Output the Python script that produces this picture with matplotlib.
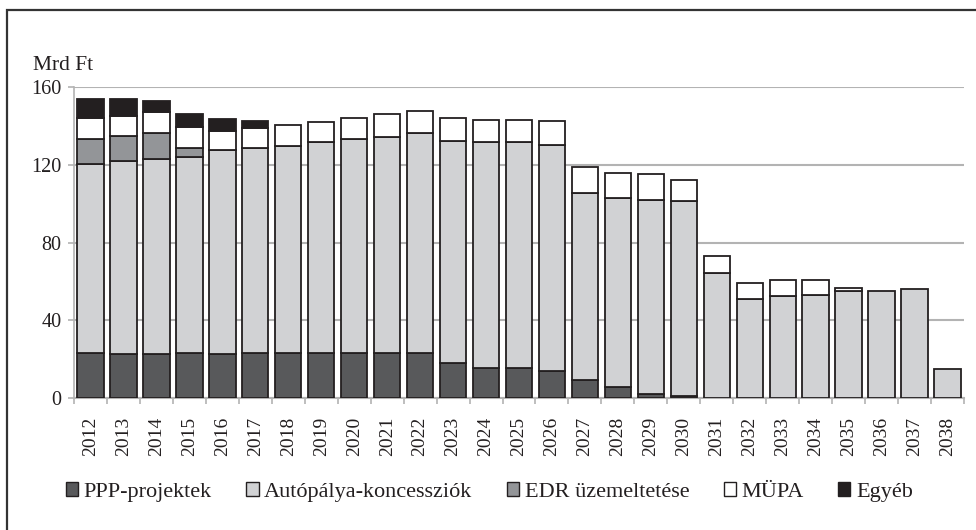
import matplotlib
matplotlib.use("Agg")
import matplotlib.pyplot as plt
import numpy as np
from matplotlib.patches import Rectangle, Patch

years = [str(y) for y in range(2012, 2039)]
ppp = [23.2, 22.7, 22.7, 23.0, 22.5, 23.0, 23.0, 23.0, 23.0, 23.0, 23.0, 17.9, 15.6, 15.5,
       13.9, 9.4, 5.6, 2.2, 0.8, 0, 0, 0, 0, 0, 0, 0, 0]
auto = [97.0, 99.0, 100.4, 100.9, 105.2, 105.6, 106.6, 108.5, 110.1, 111.4, 113.2, 114.5, 116.1,
        116.2, 116.1, 96.1, 97.1, 99.9, 100.4, 64.4, 50.8, 52.3, 53.0, 55.2, 55.2, 55.9, 14.9]
edr = [13.2, 12.9, 13.2, 4.5, 0, 0, 0, 0, 0, 0, 0, 0, 0, 0, 0, 0, 0, 0, 0, 0, 0, 0, 0, 0, 0, 0, 0]
mupa = [10.6, 10.6, 10.7, 11.2, 9.8, 10.3, 11.0, 10.7, 10.8, 11.7, 11.3, 11.5, 11.5, 11.5,
        12.3, 13.1, 13.0, 12.9, 10.8, 8.6, 8.5, 8.6, 7.9, 1.6, 0, 0, 0]
egyeb = [9.8, 8.6, 6.0, 6.3, 6.2, 3.4, 0, 0, 0, 0, 0, 0, 0, 0, 0, 0, 0, 0, 0, 0, 0, 0, 0, 0, 0, 0, 0]

series = [
    ("PPP-projektek", ppp, "#58595b"),
    ("Autópálya-koncessziók", auto, "#d1d2d4"),
    ("EDR üzemeltetése", edr, "#939598"),
    ("MÜPA", mupa, "#ffffff"),
    ("Egyéb", egyeb, "#231f20"),
]

plt.rcParams['font.family'] = ['Liberation Serif', 'DejaVu Serif']

fig = plt.figure(figsize=(9.76, 5.3), dpi=100)
ax = fig.add_axes([74/976, 1-398/530, (964-74)/976, (398-87)/530])

x = np.arange(len(years))
bottom = np.zeros(len(years))
edge = "#231f20"
for name, vals, col in series:
    v = np.array(vals, dtype=float)
    mask = v > 0
    ax.bar(x[mask], v[mask], width=0.8, bottom=bottom[mask], color=col,
           edgecolor=edge, linewidth=1.3, zorder=3)
    bottom += v

ax.set_xlim(-0.47, len(years) - 0.5)
ax.set_ylim(0, 160)
ax.set_yticks([0, 40, 80, 120, 160])
ax.yaxis.grid(True, color="#b3b3b3", linewidth=1.5, zorder=0)
ax.set_axisbelow(True)

ax.set_xticks(x)
ax.set_xticklabels(years, rotation=90, fontsize=14)
ax.set_xticks(np.arange(-0.5, len(years)), minor=True)
ax.tick_params(axis='x', which='major', length=0, pad=13.5)
ax.tick_params(axis='x', which='minor', length=4, color="#b3b3b3", width=1.2)
ax.tick_params(axis='y', length=4, color="#b3b3b3", width=1.2, labelsize=14.5, pad=5,
               labelcolor="#231f20")
ax.tick_params(axis='x', labelcolor="#231f20")

for s in ['top', 'right']:
    ax.spines[s].set_visible(False)
ax.spines['left'].set_color("#b3b3b3")
ax.spines['left'].set_linewidth(1.2)
ax.spines['bottom'].set_color("#b3b3b3")
ax.spines['bottom'].set_linewidth(1.5)

fig.text(33/976, 1-65/530, "Mrd Ft", fontsize=15.5, va='center', ha='left', color="#231f20")

handles = [Patch(facecolor=c, edgecolor=edge, linewidth=1.0) for _, _, c in series]
labels = [n for n, _, _ in series]
fig.legend(handles, labels, loc='center left', bbox_to_anchor=(66/976, 1-492/530),
           ncol=5, frameon=False, fontsize=16, handlelength=0.55, handleheight=0.55,
           handletextpad=0.25, columnspacing=1.55, borderaxespad=0, borderpad=0,
           labelcolor="#231f20")

fig.patches.append(Rectangle((7/976, -0.1), 1.2, (1-10/530) + 0.1, transform=fig.transFigure,
                             fill=False, edgecolor="#333333", linewidth=1.6))

fig.savefig("out.png", dpi=100)
